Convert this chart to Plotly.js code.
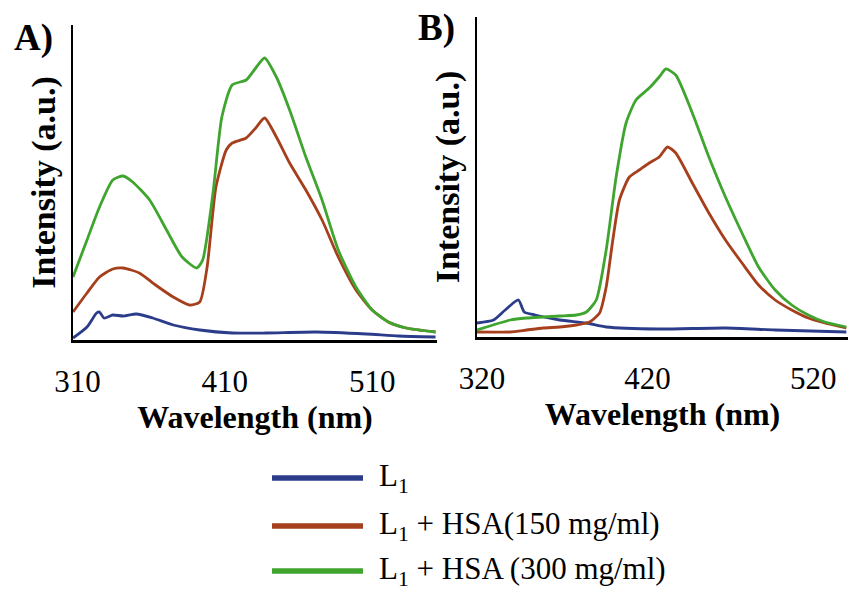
<!DOCTYPE html>
<html>
<head>
<meta charset="utf-8">
<script src="https://cdn.plot.ly/plotly-3.0.1.min.js"></script>
<style>
  html, body { margin: 0; padding: 0; background: #ffffff; }
  #chart { width: 848px; height: 590px; }
</style>
</head>
<body>
<div id="chart"></div>
<script>
// Fluorescence emission spectra of L1 alone and with HSA, two excitation panels.

// ---- Panel A: wavelength (nm) and intensity (a.u.) ----
const aWaveBlue  = [307, 316.5, 323, 325, 328, 334, 341, 350, 361, 375, 393, 415, 438, 472, 506, 528, 553];
const aBlue      = [2,   13,    27,  28,  22,  25,  24,  26,  22,  15,  10,  7,   7,   8,   6,   4,   3];

const aWaveRed   = [307, 316.5, 325, 334, 341, 352, 363, 375, 386, 393, 398, 404, 411, 415, 424.5, 431, 437, 445, 454, 465, 476, 487, 499, 510, 521, 533, 553];
const aRed       = [28,  47,    63,  71,  72,  67,  55,  43,  35,  38,  73,  153, 190, 197, 202,   212, 222, 203, 177, 150, 120, 83,  50,  30,  18,  12,  8];

const aWaveGreen = [307, 316.5, 325, 334, 341, 347.5, 359, 370.5, 381, 391, 395, 402, 408, 415, 424.5, 431, 437, 445, 454, 465, 476, 487, 499, 510, 521, 533, 553];
const aGreen     = [63,  100,   133, 160, 164, 158,   140, 110,   83,  72,  80,  147, 223, 255, 260,   272, 282, 263, 230, 183, 140, 90,  53,  30,  18,  12,  8];

// ---- Panel B ----
const bWaveBlue  = [317, 327, 334, 342, 345.5, 352, 367, 383, 395, 427, 467, 497, 540];
const bBlue      = [14,  17,  27,  37,  25,    22,  17,  14,  10,  8,   9,   7,   5];

const bWaveRed   = [317, 337, 347, 357, 367, 377, 385, 391, 395, 399, 403, 409, 415, 421, 427, 432, 437, 447, 457, 467, 477, 487, 497, 507, 517, 527, 540];
const bRed       = [5,   5,   7,   9,   10,  12,  15,  24,  50,  97,  137, 160, 167, 174, 180, 190, 184, 154, 124, 97,  74,  52,  37,  27,  19,  14,  9];

const bWaveGreen = [317, 326.6, 337, 347, 357, 367, 377, 383, 389, 395, 401, 407, 413, 421, 427, 431, 437, 447, 457, 467, 477, 487, 497, 507, 517, 527, 540];
const bGreen     = [7,   12,    17,  19,  20,  21,  22,  25,  37,  87,  160, 214, 237, 249, 260, 268, 262, 224, 180, 140, 104, 70,  47,  32,  22,  15,  10];

// ---- Series names, colours, ticks ----
const seriesNames  = ['L<sub>1</sub>', 'L<sub>1</sub> + HSA(150 mg/ml)', 'L<sub>1</sub> + HSA (300 mg/ml)'];
const seriesColors = ['#2B3D8A', '#A63F1C', '#3FA52F'];
const aTicks = [310, 410, 510];
const bTicks = [320, 420, 520];
const panelLabels = ['A)', 'B)'];

const serif = 'Liberation Serif, Times New Roman, serif';

function trace(x, y, idx, xa, ya) {
  return {
    x: x, y: y, xaxis: xa, yaxis: ya,
    type: 'scatter', mode: 'lines',
    line: { color: seriesColors[idx], width: 2.8, shape: 'spline', smoothing: 0.6 },
    showlegend: false, hoverinfo: 'skip'
  };
}

const data = [
  trace(aWaveBlue,  aBlue,  0, 'x',  'y'),
  trace(aWaveRed,   aRed,   1, 'x',  'y'),
  trace(aWaveGreen, aGreen, 2, 'x',  'y'),
  trace(bWaveBlue,  bBlue,  0, 'x2', 'y2'),
  trace(bWaveRed,   bRed,   1, 'x2', 'y2'),
  trace(bWaveGreen, bGreen, 2, 'x2', 'y2')
];

function xAxis(domain, range, ticks, anchor) {
  return {
    domain: domain, range: range, anchor: anchor,
    tickmode: 'array', tickvals: ticks, ticktext: ticks.map(String),
    ticks: '', ticklabelstandoff: 12,
    tickfont: { family: serif, size: 31, color: '#000' },
    showgrid: false, zeroline: false,
    showline: true, linecolor: '#000', linewidth: 2.5,
    title: { text: '<b>Wavelength (nm)</b>', font: { family: serif, size: 32, color: '#000' }, standoff: 0 },
    fixedrange: true
  };
}
function yAxis(domain, range, anchor) {
  return {
    domain: domain, range: range, anchor: anchor,
    showticklabels: false, ticks: '',
    showgrid: false, zeroline: false,
    showline: true, linecolor: '#000', linewidth: 2.5,
    title: { text: '<b>Intensity (a.u.)</b>', font: { family: serif, size: 34, color: '#000' }, standoff: 5 },
    fixedrange: true
  };
}

const W = 848, H = 590;
const annotations = [];
const shapes = [];

// Panel letters
annotations.push({ xref: 'paper', yref: 'paper', x: 33 / W, y: 1 - 38 / H, text: '<b>' + panelLabels[0] + '</b>',
  showarrow: false, xanchor: 'center', yanchor: 'middle', font: { family: serif, size: 37, color: '#000' } });
annotations.push({ xref: 'paper', yref: 'paper', x: 436 / W, y: 1 - 28 / H, text: '<b>' + panelLabels[1] + '</b>',
  showarrow: false, xanchor: 'center', yanchor: 'middle', font: { family: serif, size: 37, color: '#000' } });

// Legend: coloured key line + label per series
const legendRows = [478, 526, 571];
seriesNames.forEach((name, i) => {
  const yp = 1 - legendRows[i] / H;
  shapes.push({ type: 'line', xref: 'paper', yref: 'paper', x0: 272 / W, x1: 363 / W, y0: yp, y1: yp,
    line: { color: seriesColors[i], width: 5.5 } });
  annotations.push({ xref: 'paper', yref: 'paper', x: 377 / W, y: yp, text: name, showarrow: false,
    xanchor: 'left', yanchor: 'middle', font: { family: serif, size: 31, color: '#000' } });
});

const layout = {
  width: W, height: H,
  margin: { l: 0, r: 0, t: 0, b: 0 },
  paper_bgcolor: '#ffffff', plot_bgcolor: '#ffffff',
  showlegend: false,
  xaxis:  xAxis([73 / W, 437 / W], [307, 554], aTicks, 'y'),
  yaxis:  yAxis([(H - 340) / H, (H - 25) / H], [0, 315], 'x'),
  xaxis2: xAxis([477 / W, 1], [317, 541], bTicks, 'y2'),
  yaxis2: yAxis([(H - 337) / H, (H - 17) / H], [0, 320], 'x2'),
  annotations: annotations,
  shapes: shapes
};

Plotly.newPlot('chart', data, layout, { displayModeBar: false, staticPlot: true });
</script>
</body>
</html>
